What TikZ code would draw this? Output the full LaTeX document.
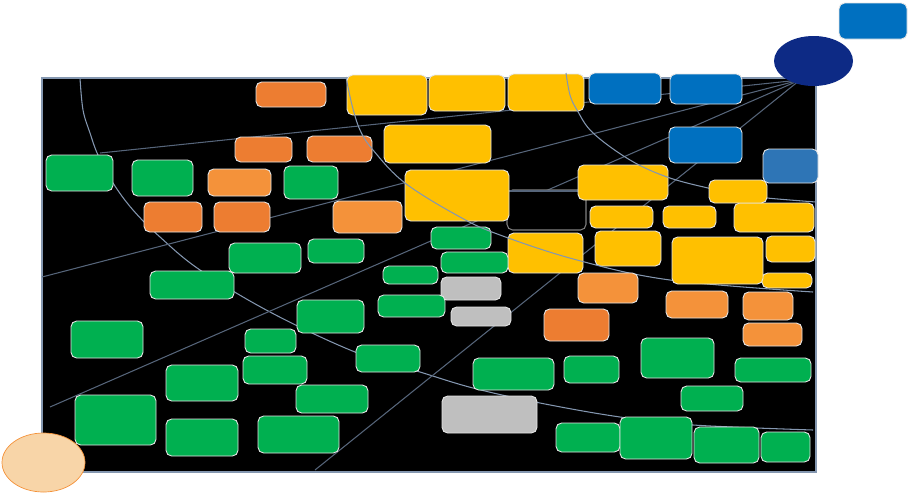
\documentclass[tikz,border=0pt]{standalone}
\begin{document}
\begin{tikzpicture}[x=0.02cm,y=-0.02cm,
  bxs/.style={rounded corners=3.2pt,draw=white!80!gray,line width=0.5pt},
  gr/.style={bxs,fill=cgreen},
  yl/.style={bxs,fill=cyellow},
  od/.style={bxs,fill=corange},
  ol/.style={bxs,fill=corangel},
  bl/.style={bxs,fill=cblue},
  sb/.style={bxs,fill=csteel},
  gy/.style={bxs,fill=cgray},
  conn/.style={draw=clink,line width=0.6pt},
  arcl/.style={draw=carc,line width=0.6pt}]
\definecolor{cgreen}{HTML}{00B050}
\definecolor{cyellow}{HTML}{FFC000}
\definecolor{corange}{HTML}{ED7D31}
\definecolor{corangel}{HTML}{F4923A}
\definecolor{cblue}{HTML}{0070C0}
\definecolor{csteel}{HTML}{2E75B6}
\definecolor{cgray}{HTML}{BFBFBF}
\definecolor{cnavy}{HTML}{0D2A85}
\definecolor{cpeach}{HTML}{F8D5A8}
\definecolor{clink}{HTML}{56657A}
\definecolor{carc}{HTML}{8497B0}
\useasboundingbox (0,0) rectangle (911,494);
% background panel
\draw[fill=black,draw=carc,line width=0.6pt] (42,78) rectangle (816,472);
% arc behind boxes
\draw[arcl] plot[smooth,tension=0.6] coordinates {(80,78) (83,110) (90,133) (98,155) (113,183) (133,210) (160,237) (200,270) (270,312) (355,352) (420,372) (473,388) (540,403) (620,417) (693,425) (813,430)};
% radiating connectors
\coordinate (hub) at (800,80);
\coordinate (ea) at (100,153);
\coordinate (eb) at (42,277);
\coordinate (ec) at (50,407);
\coordinate (ed) at (315,470);
\draw[conn] (hub) -- (ea);
\draw[conn] (hub) -- (eb);
\draw[conn] (hub) -- (ec);
\draw[conn] (hub) -- (ed);
% outline box and horizontal link
\draw[rounded corners=3.2pt,draw=gray,line width=0.6pt,fill=black] (507,190) rectangle (586,230);
\draw[conn] (509,191) -- (578,191);
% peach ellipse
\draw[fill=cpeach,draw=corangel,line width=0.4pt] (43.5,462.5) ellipse [x radius=41.5,y radius=29.5];
% top row
\draw[od] (256,82) rectangle (326,107);
\draw[yl] (347,75) rectangle (427,115);
\draw[yl] (429,75) rectangle (505,111);
\draw[yl] (508,74) rectangle (584,111);
\draw[bl] (589,73) rectangle (661,104);
\draw[bl] (670,74) rectangle (742,104);
\draw[bl] (839,3) rectangle (907,39);
% row 2
\draw[od] (235,137) rectangle (292,162);
\draw[od] (307,136) rectangle (372,162);
\draw[yl] (384,125) rectangle (491,163);
\draw[bl] (669,127) rectangle (742,163);
\draw[sb] (763,149) rectangle (818,183);
% row 3
\draw[gr] (46,155) rectangle (113,191);
\draw[gr] (132,160) rectangle (193,196);
\draw[ol] (208,169) rectangle (271,196);
\draw[gr] (284,166) rectangle (338,199);
\draw[yl] (405,170) rectangle (509,221);
\draw[yl] (578,165) rectangle (668,200);
% row 4
\draw[od] (144,202) rectangle (202,232);
\draw[od] (214,202) rectangle (270,232);
\draw[ol] (333,201) rectangle (402,233);
\draw[yl] (590,206) rectangle (653,228);
\draw[yl] (663,206) rectangle (716,228);
\draw[yl] (734,203) rectangle (814,232);
% row 5
\draw[gr] (229,243) rectangle (301,273);
\draw[gr] (308,239) rectangle (364,263);
\draw[gr] (431,227) rectangle (491,249);
\draw[yl] (508,233) rectangle (583,273);
\draw[yl] (595,231) rectangle (661,266);
\draw[yl] (766,236) rectangle (815,262);
\draw[yl] (762,273) rectangle (812,288);
\draw[gr] (441,252) rectangle (508,273);
\draw[gr] (383,266) rectangle (438,284);
% arcs drawn over the upper boxes
\draw[arcl] plot[smooth,tension=0.6] coordinates {(346,77) (352,105) (360,130) (373,150) (405,183) (460,217) (500,235) (577,260) (670,280) (813,292)};
\draw[arcl] plot[smooth,tension=0.6] coordinates {(566,73) (570,95) (577,110) (593,133) (630,160) (667,177) (708,188) (740,194) (767,198) (816,202)};
\draw[yl] (709,180) rectangle (767,203);
\draw[yl] (672,237) rectangle (763,284);
% row 6
\draw[gr] (150,271) rectangle (234,299);
\draw[gy] (441,277) rectangle (501,300);
\draw[ol] (578,273) rectangle (638,303);
\draw[ol] (666,291) rectangle (728,318);
\draw[ol] (743,292) rectangle (793,320);
\draw[gr] (297,300) rectangle (364,333);
\draw[gr] (378,295) rectangle (445,317);
\draw[gy] (451,307) rectangle (511,326);
\draw[od] (544,309) rectangle (609,341);
\draw[ol] (743,323) rectangle (802,346);
% row 7
\draw[gr] (71,321) rectangle (143,358);
\draw[gr] (245,329) rectangle (296,353);
\draw[gr] (243,356) rectangle (307,384);
\draw[gr] (356,345) rectangle (420,372);
\draw[gr] (166,365) rectangle (238,401);
\draw[gr] (641,338) rectangle (714,378);
\draw[gr] (473,358) rectangle (554,390);
\draw[gr] (564,356) rectangle (619,383);
\draw[gr] (735,358) rectangle (811,382);
\draw[gr] (681,386) rectangle (743,411);
% row 8
\draw[gr] (296,385) rectangle (368,413);
\draw[gr] (75,395) rectangle (156,445);
\draw[gr] (166,419) rectangle (238,456);
\draw[gr] (258,416) rectangle (339,453);
\draw[gy] (442,396) rectangle (537,433);
\draw[gr] (556,423) rectangle (620,452);
\draw[gr] (620,417) rectangle (692,459);
\draw[gr] (694,427) rectangle (759,463);
\draw[gr] (761,432) rectangle (810,462);
% navy ellipse
\fill[cnavy] (813.5,61) ellipse [x radius=39.5,y radius=25];
\end{tikzpicture}
\end{document}
